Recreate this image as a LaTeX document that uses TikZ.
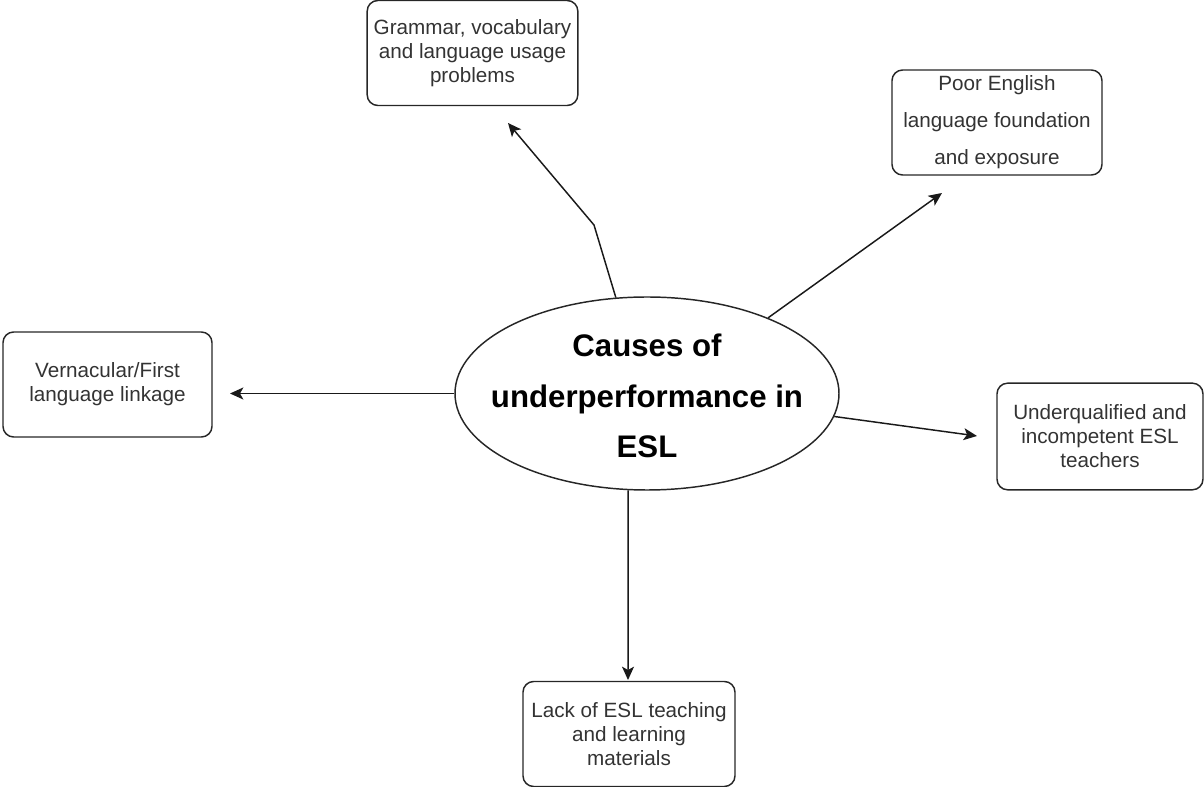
\documentclass[tikz,border=0pt]{standalone}
\usepackage{fontspec}
\setmainfont{Liberation Sans}
\usetikzlibrary{arrows.meta,shapes.geometric}

\tikzset{
  causebox/.style={draw=black!85, line width=1.1pt, rounded corners=8pt,
    minimum width=157.5pt, minimum height=78.75pt, inner sep=0pt,
    align=center, text=black!80,
    font=\fontsize{15.5}{18}\selectfont},
  hub/.style={ellipse, draw=black!85, line width=1.1pt, inner sep=0pt,
    minimum width=288pt, minimum height=144.75pt},
  hubtext/.style={align=center, inner sep=0pt,
    font=\fontsize{23.4}{38}\selectfont\bfseries},
  link/.style={draw=black!90, line width=1.1pt,
    -{Stealth[length=10pt,width=9pt,inset=2.5pt]}}
}

\begin{document}
\begin{tikzpicture}[x=0.75pt,y=-0.75pt]
  \useasboundingbox (0,0) rectangle (1204,787);

  % central topic: ellipse of fixed size with its title set inside
  \node[hub] (ell) at (647,393.5) {};
  \node[hubtext] (title) at ([yshift=-2pt]ell.center)
    {Causes of\\underperformance in\\ESL};

  % surrounding causes
  \node[causebox, minimum width=158pt] (gram) at (472.5,53)
    {Grammar, vocabulary\\and language usage\\problems};
  \node[causebox, font=\fontsize{15.5}{27.75}\selectfont] (poor) at (997,122.5)
    {Poor English\\language foundation\\and exposure};
  \node[causebox, minimum width=156.75pt] (vern) at (107.5,384.5)
    {Vernacular/First\\language linkage};
  \node[causebox, minimum width=154.5pt, minimum height=80pt] (under) at (1100,436.5)
    {Underqualified and\\incompetent ESL\\teachers};
  \node[causebox, minimum width=159pt] (lack) at (629,734)
    {Lack of ESL teaching\\and learning\\materials};

  % arrow end points and bend
  \coordinate (gramtip) at (508,123);
  \coordinate (grambend) at (594,225);
  \coordinate (poortip) at (942,193);
  \coordinate (verntip) at (230,393.5);
  \coordinate (undertip) at (977,436);
  \coordinate (lacktip) at (628,680);

  % connectors
  \draw[link] (ell.108) -- (grambend) -- (gramtip);
  \draw[link] (ell.32.6) -- (poortip);
  \draw[link] (ell.west) -- (verntip);
  \draw[link] (ell.-7.5) -- (undertip);
  \draw[link] (ell.259.2) -- (lacktip);
\end{tikzpicture}
\end{document}
